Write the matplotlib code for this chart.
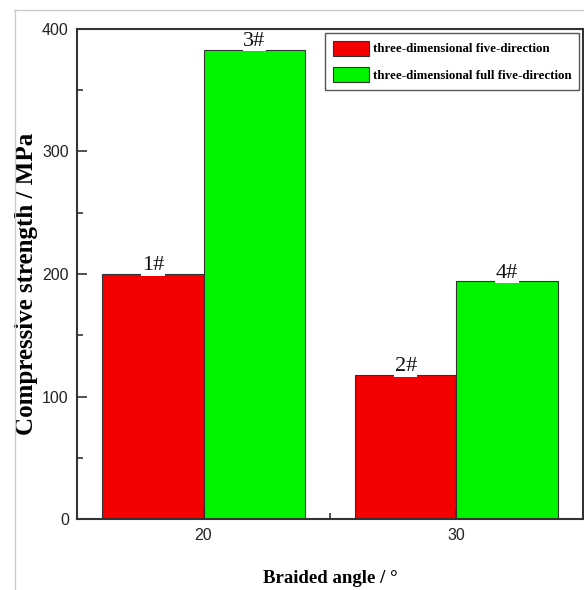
import numpy as np
import matplotlib
matplotlib.use("Agg")
import matplotlib.pyplot as plt
from matplotlib.lines import Line2D
from matplotlib.ticker import MultipleLocator, FixedLocator

# data
angles = ["20", "30"]
five_dir = [200, 117.5]
full_five_dir = [383, 194]
labels_five = ["1#", "2#"]
labels_full = ["3#", "4#"]
series_names = ["three-dimensional five-direction",
                "three-dimensional full five-direction"]

fig = plt.figure(figsize=(5.84, 5.90), dpi=100)
ax = fig.add_axes([0.132, 0.120, 0.866, 0.831])

x = np.arange(len(angles))
w = 0.4
b1 = ax.bar(x - w / 2, five_dir, w, color="#f40000", edgecolor="#333333",
            linewidth=0.8, label=series_names[0])
b2 = ax.bar(x + w / 2, full_five_dir, w, color="#00f400", edgecolor="#333333",
            linewidth=0.8, label=series_names[1])

for bars, labs in ((b1, labels_five), (b2, labels_full)):
    for r, t in zip(bars, labs):
        ax.text(r.get_x() + r.get_width() / 2, r.get_height() - 1, t,
                ha="center", va="bottom", family="Liberation Serif",
                fontsize=16, color="#111111",
                bbox=dict(facecolor="white", edgecolor="none", pad=0.3))

ax.set_xlim(-0.5, 1.5)
ax.set_ylim(0, 400)
ax.set_xticks(x)
ax.set_xticklabels(angles)
ax.xaxis.set_minor_locator(FixedLocator([0.5]))
ax.yaxis.set_major_locator(MultipleLocator(100))
ax.yaxis.set_minor_locator(MultipleLocator(50))
ax.tick_params(which="both", direction="in", top=False, right=False,
               labelsize=11.5, width=1.2, color="#333333", pad=6)
ax.tick_params(which="major", length=7)
ax.tick_params(which="minor", length=4)
for lab in ax.get_xticklabels() + ax.get_yticklabels():
    lab.set_family("Liberation Sans")
    lab.set_color("#222222")
for s in ax.spines.values():
    s.set_linewidth(1.5)
    s.set_color("#333333")

ax.set_xlabel("Braided angle / \u00b0", family="Liberation Serif",
              fontweight="bold", fontsize=13.5, labelpad=20)
ax.set_ylabel("Compressive strength / MPa", family="Liberation Serif",
              fontweight="bold", fontsize=18)
ax.yaxis.set_label_coords(-0.078, 0.48)

leg = ax.legend(loc="upper right", prop={"family": "Liberation Serif",
                                         "weight": "bold", "size": 9.3},
                fancybox=False, edgecolor="#555555", framealpha=1,
                borderaxespad=0.3, handlelength=2.8, handleheight=1.45,
                handletextpad=0.3, labelspacing=0.85, borderpad=0.6)
leg.get_frame().set_linewidth(1.0)

# page border of the screenshot
fig.add_artist(Line2D([14 / 584, 1], [1 - 10 / 590, 1 - 10 / 590],
                      transform=fig.transFigure, color="#cccccc", lw=1))
fig.add_artist(Line2D([15 / 584, 15 / 584], [0, 1 - 10 / 590],
                      transform=fig.transFigure, color="#cccccc", lw=1))

fig.savefig("out.png", dpi=100)
